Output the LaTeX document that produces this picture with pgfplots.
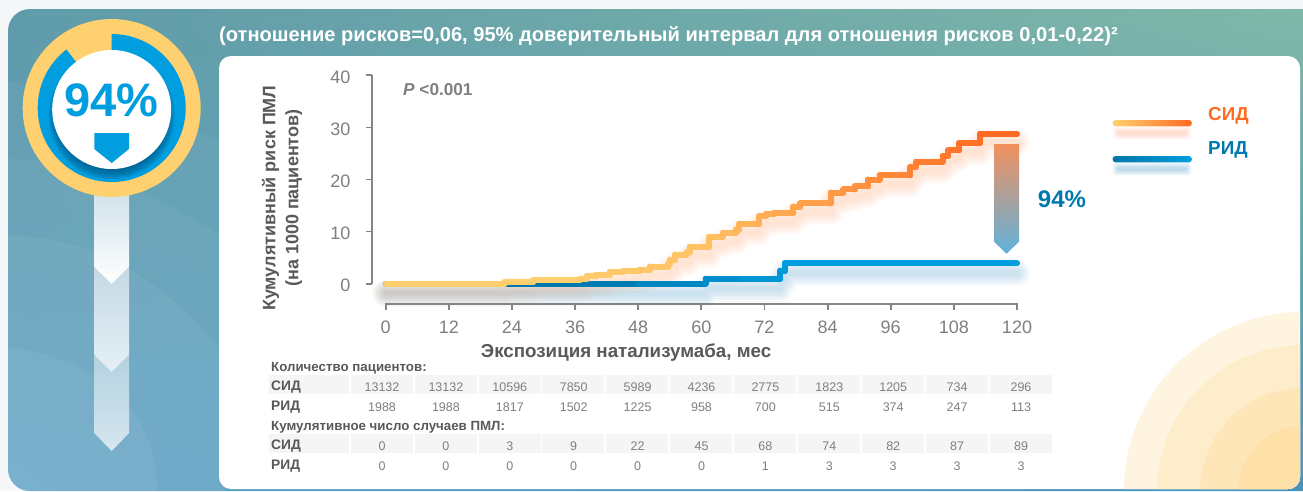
\documentclass[border=0pt]{standalone}
\usepackage{fontspec}
\setmainfont{Liberation Sans}
\usepackage{pgfplots}
\usepackage{pgfplotstable}
\usetikzlibrary{shadings}
\pgfplotsset{compat=1.18}
\definecolor{axgray}{HTML}{858585}
\definecolor{labgray}{HTML}{595959}
\definecolor{numgray}{HTML}{7F7F7F}
\definecolor{cyan1}{HTML}{009DDF}
\definecolor{dblue}{HTML}{0079AF}
\definecolor{sidc}{HTML}{FF6A22}
\definecolor{yel}{HTML}{FFD070}
\definecolor{pul}{HTML}{5F9BA9}
\definecolor{pur}{HTML}{80B8A8}
\definecolor{pll}{HTML}{5FA2C6}
\definecolor{plr}{HTML}{4A93B8}
\definecolor{bgout}{HTML}{F5F7F9}
\definecolor{c1}{HTML}{FEF4DF}
\definecolor{c2}{HTML}{FEEDCB}
\definecolor{c3}{HTML}{FEE6B8}
\definecolor{c4}{HTML}{FEE1A8}
\definecolor{ch1a}{HTML}{CFE2EA}
\definecolor{ch2a}{HTML}{C5D9E5}
\definecolor{ch2b}{HTML}{E5F0F5}
\definecolor{ch3a}{HTML}{B3D1E0}
\definecolor{ch3b}{HTML}{D6E7F0}
\definecolor{ringdark}{HTML}{004F78}
\definecolor{shO}{HTML}{FF9A5A}
\definecolor{shB}{HTML}{2F8FC0}
\definecolor{arrT}{HTML}{F2905E}
\definecolor{arrB}{HTML}{5FB2DC}
\definecolor{legO}{HTML}{FF9A70}
\definecolor{legB}{HTML}{5FA8D0}
\definecolor{legD}{HTML}{0076AA}
\definecolor{band}{HTML}{F5F5F5}
\pgfplotsset{colormap={sidmap}{rgb255=(255,207,111) rgb255=(255,207,111) rgb255=(255,194,100) rgb255=(255,146,64) rgb255=(255,100,30)}}
\pgfplotsset{colormap={ridmap}{rgb255=(0,118,170) rgb255=(0,121,175) rgb255=(0,157,223) rgb255=(0,157,223)}}
\pgfplotstableread{
x y
0 0
12 0
22.6 0
22.6 0.3
28 0.3
28 0.7
36.9 0.7
36.9 0.9
38.2 0.9
38.2 1.4
40 1.4
40 1.7
42.6 1.7
42.6 2.2
45.1 2.2
45.1 2.4
48.3 2.4
48.3 2.7
50.2 2.7
50.2 3.3
53.7 3.3
53.7 3.8
54 3.8
54 4.6
55 4.6
55 5.6
57.2 5.6
57.2 6
57.8 6
57.8 7.1
61.5 7.1
61.5 9
64.1 9
64.1 9.8
66.6 9.8
66.6 10.4
67.2 10.4
67.2 11.5
71 11.5
71 13
72.3 13
72.3 13.4
73.9 13.4
73.9 13.6
77.5 13.6
77.5 14.8
78.8 14.8
78.8 15.4
84.6 15.4
84.6 17.5
87 17.5
87 18.1
89.2 18.1
89.2 18.7
91.7 18.7
91.7 20
93.9 20
93.9 20.8
99.7 20.8
99.7 22.4
100.8 22.4
100.8 23.4
105.9 23.4
105.9 24.5
106.9 24.5
106.9 25.6
109 25.6
109 27
113 27
113 28.8
120 28.8
}\sid
\pgfplotstableread{
x y
0 0
12 0
24 0
36 0
48 0
60.8 0
60.8 0.96
68 0.96
75 0.96
75 2.5
75.9 2.5
75.9 3.95
90 3.95
105 3.95
120 3.95
}\rid
\newcommand\fs[1]{\fontsize{#1}{#1}\selectfont}
\begin{document}
\begin{tikzpicture}[x=1pt,y=-1pt]
\useasboundingbox (0,0) rectangle (1303,491);
\fill[bgout] (0,0) rectangle (1303,491);
% panel
\begin{scope}
\clip (0,0) rectangle (1303,491);
\shade[rounded corners=22, upper left=pul, upper right=pur, lower left=pll, lower right=plr]
  (8,9) rectangle (1325,491);
\begin{scope}
\clip[rounded corners=22] (8,9) rectangle (1325,491);
\fill[white,opacity=.04] (8,82) .. controls (80,85) and (160,110) .. (225,145) -- (225,491) -- (8,491) -- cycle;
\fill[white,opacity=.04] (8,159) .. controls (90,160) and (170,200) .. (225,240) -- (225,491) -- (8,491) -- cycle;
\fill[white,opacity=.05] (8,236) .. controls (110,235) and (180,300) .. (225,355) -- (225,491) -- (8,491) -- cycle;
\fill[white,opacity=.05] (8,347) .. controls (100,360) and (157,410) .. (157,491) -- (8,491) -- cycle;
\end{scope}
\end{scope}
% card
\fill[white,rounded corners=12] (219,56) rectangle (1300,489);
\begin{scope}
\clip[rounded corners=12] (219,56) rectangle (1300,489);
\fill[c1] (1303,491) circle[radius=179];
\fill[c2] (1303,491) circle[radius=146];
\fill[c3] (1303,491) circle[radius=103];
\fill[c4] (1303,491) circle[radius=65];
\end{scope}
% chevrons
\shade[top color=ch3a, bottom color=ch3b] (94.3,355)--(111.7,372)--(129,355)--(129,433)--(111.7,451)--(94.3,433)--cycle;
\shade[top color=ch2a, bottom color=ch2b] (94.3,267)--(111.7,284)--(129,267)--(129,355)--(111.7,372)--(94.3,355)--cycle;
\shade[top color=ch1a, bottom color=white] (94.3,190)--(129,190)--(129,267)--(111.7,284)--(94.3,267)--cycle;
% ring
\fill[yel] (111.7,108) circle[radius=89];
\fill[cyan1] (111.7,108) circle[radius=74];
\fill[yel] (111.7,108) -- (111.7,30) arc[start angle=-90,end angle=-127.6,radius=78] -- cycle;
\begin{scope}
\clip (111.7,108) circle[radius=74];
\foreach \r in {55,57,59,61,63}{\fill[ringdark,opacity=.2] (111.7,116) circle[radius=\r];}
\end{scope}
\fill[white] (111.7,109.5) circle[radius=59.5];
\node[text=cyan1,font=\fs{47}\bfseries] at (111.7,100) {94\%};
\fill[cyan1] (94.3,133)--(129,133)--(129,149)--(111.7,163)--(94.3,149)--cycle;
% header
\node[anchor=west,text=white,font=\fs{20.1}\bfseries,inner sep=0] at (219,36) {(отношение рисков=0,06, 95\% доверительный интервал для отношения рисков 0,01-0,22)²};
% chart
\begin{axis}[at={(372pt,-304pt)},anchor=south west,scale only axis,width=645pt,height=228.7pt,
  xmin=-2.6,xmax=120,ymin=-3.9,ymax=40,clip=false,
  axis lines*=left,axis line style={draw=none},
  xtick={0,12,...,120},ytick={0,10,...,40},
  tick align=outside,major tick length=6pt,
  tick style={draw=axgray,line width=1.8pt},
  /pgf/number format/assume math mode=true,
  ticklabel style={text=numgray,font=\fs{18}},
  xticklabel style={yshift=-7pt},
  yticklabel style={xshift=-12pt,yshift=-2pt},
  xlabel={Экспозиция натализумаба, мес},
  ylabel={Кумулятивный риск ПМЛ\\(на 1000 пациентов)},
  x label style={at={(axis description cs:.394,-.2145)},anchor=center,font=\fs{18.75}\bfseries,text=labgray},
  y label style={at={(axis description cs:-.1395,.463)},anchor=center,align=center,font=\fontsize{18}{23}\selectfont\bfseries,text=labgray},
]
\draw[axgray,line width=2pt] (axis cs:-2.6,-0.15)--(axis cs:-2.6,40.15);
\draw[axgray,line width=2pt] (axis cs:-0.2,-3.9)--(axis cs:120.2,-3.9);
\pgfplotsinvokeforeach{26,23,20,17,14,11,8,5}{
  \addplot[forget plot,no marks,draw=shO,line width=#1pt,opacity=.036,yshift=-9pt,line join=round,line cap=round] table[x=x,y=y]{\sid};
  \addplot[forget plot,no marks,draw=shB,line width=#1pt,opacity=.032,yshift=-10pt,line join=round,line cap=round] table[x=x,y=y]{\rid};
}
\addplot[mesh,colormap name=ridmap,point meta=x,point meta min=0,point meta max=120,line width=6pt,line cap=round] table[x=x,y=y]{\rid};
\addplot[mesh,colormap name=sidmap,point meta=x,point meta min=0,point meta max=120,line width=6pt,line cap=round] table[x=x,y=y]{\sid};
\end{axis}
\node[anchor=west,text=numgray,font=\fs{17.2}\bfseries,inner sep=0] at (403,90) {\textit{P} <0.001};
% gradient arrow
\shade[top color=arrT, bottom color=arrB] (994,144)--(1019,144)--(1019,241.7)--(1006.5,253.7)--(994,241.7)--cycle;
\node[text=dblue,font=\fs{24}\bfseries,inner sep=0] at (1062,199) {94\%};
% legend
\foreach \d in {0,1.5,3,4.5}{
\fill[legO,opacity=.09,rounded corners=3] (1113+\d,127+\d) rectangle (1191-\d,139-\d);
\fill[legB,opacity=.12,rounded corners=3] (1113+\d,163+\d) rectangle (1191-\d,175-\d);
}
\shade[left color=yel, right color=sidc,rounded corners=3] (1112.6,120) rectangle (1191.8,126.4);
\shade[left color=legD, right color=cyan1,rounded corners=3] (1112.6,156) rectangle (1191.8,162.4);
\node[anchor=west,text=sidc,font=\fs{18.8}\bfseries,inner sep=0] at (1208,116) {СИД};
\node[anchor=west,text=dblue,font=\fs{18.8}\bfseries,inner sep=0] at (1208,150) {РИД};
% table
\foreach \yy in {375,434}{
  \fill[band] (269.3,\yy) rectangle (349,\yy+19);
  \foreach \i in {0,...,10}{\fill[band] (350.7+\i*63.9,\yy) rectangle (412.7+\i*63.9,\yy+19);}
}
\node[anchor=west,text=labgray,font=\fs{13.3}\bfseries,inner sep=0] at (271,368) {Количество пациентов:};
\node[anchor=west,text=labgray,font=\fs{13.3}\bfseries,inner sep=0] at (271,427) {Кумулятивное число случаев ПМЛ:};
\foreach \y/\t in {387.5/СИД,407.5/РИД,446.5/СИД,466.5/РИД}{\node[anchor=west,text=labgray,font=\fs{13.8}\bfseries,inner sep=0] at (271,\y) {\t};}
\foreach \v [count=\i from 0] in {13132,13132,10596,7850,5989,4236,2775,1823,1205,734,296}{\node[text=numgray,font=\fs{12.5},inner sep=0] at (382+\i*63.9,387.5) {\v};}
\foreach \v [count=\i from 0] in {1988,1988,1817,1502,1225,958,700,515,374,247,113}{\node[text=numgray,font=\fs{12.5},inner sep=0] at (382+\i*63.9,407.5) {\v};}
\foreach \v [count=\i from 0] in {0,0,3,9,22,45,68,74,82,87,89}{\node[text=numgray,font=\fs{12.5},inner sep=0] at (382+\i*63.9,446.5) {\v};}
\foreach \v [count=\i from 0] in {0,0,0,0,0,0,1,3,3,3,3}{\node[text=numgray,font=\fs{12.5},inner sep=0] at (382+\i*63.9,466.5) {\v};}
\end{tikzpicture}
\end{document}
